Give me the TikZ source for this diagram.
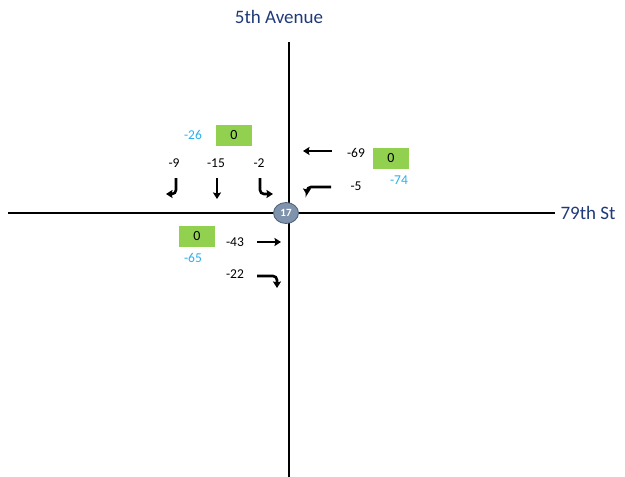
\documentclass[tikz,border=0pt]{standalone}
\usepackage{fontspec}
\setmainfont{Carlito}
\usetikzlibrary{arrows.meta,shapes.geometric}
\definecolor{navy}{HTML}{1F3A7A}
\definecolor{sky}{HTML}{29B1EE}
\definecolor{grn}{HTML}{92D050}
\definecolor{disc}{HTML}{7F93AD}
\definecolor{discb}{HTML}{4A5D78}
\tikzset{
  road/.style={line width=1.6pt,black},
  street/.style={text=navy,font=\fontsize{19}{21}\selectfont},
  cnt/.style={font=\fontsize{13.5}{15}\selectfont,text=black,inner sep=0pt},
  bluecnt/.style={font=\fontsize{13.5}{15}\selectfont,text=sky,inner sep=0pt},
  gbox/.style={fill=grn,minimum width=36pt,minimum height=21pt,inner sep=0pt,font=\fontsize{14}{16}\selectfont},
  mv/.style={line width=2.6pt,-{Stealth[length=6.5pt,width=8pt,inset=1pt]}}
}
\begin{document}
\begin{tikzpicture}[x=1pt,y=-1pt]
\useasboundingbox[fill=white] (0,0) rectangle (625,477);
% roads
\coordinate (nT) at (289,42);
\coordinate (nB) at (289,477);
\coordinate (wL) at (8,213);
\coordinate (eR) at (555,213);
\draw[road] (nT) -- (nB);
\draw[road] (wL) -- (eR);
\node[ellipse,fill=disc,draw=discb,line width=0.8pt,minimum width=25pt,minimum height=21pt,inner sep=0pt,text=white,font=\bfseries\fontsize{11}{12}\selectfont] (hub) at (286,213) {17};
% street names
\node[street] (ave) at (279,17) {5th Avenue};
\node[street] (st) at (588,213) {79th St};
% green boxes
\node[gbox] (gN) at (234,135) {0};
\node[gbox] (gE) at (391,158) {0};
\node[gbox] (gW) at (197,236) {0};
% blue totals
\node[bluecnt] (bN) at (193,135) {-26};
\node[bluecnt] (bE) at (399,180) {-74};
\node[bluecnt] (bW) at (193,258) {-65};
% movement counts
\node[cnt] (c1) at (174,163) {-9};
\node[cnt] (c2) at (216,163) {-15};
\node[cnt] (c3) at (259,163) {-2};
\node[cnt] (c4) at (356,153) {-69};
\node[cnt] (c5) at (356,186) {-5};
\node[cnt] (c6) at (235,242) {-43};
\node[cnt] (c7) at (235,274) {-22};
% arrows southbound
\coordinate (a1s) at (176,178);
\coordinate (a1e) at (166,194);
\draw[mv] (a1s) -- (176,190) to[out=-90,in=0] (172,194) -- (a1e);
\coordinate (a2s) at (217,178);
\coordinate (a2e) at (217,199);
\draw[mv] (a2s) -- (a2e);
\coordinate (a3s) at (260,178);
\coordinate (a3e) at (273,194);
\draw[mv] (a3s) -- (260,190) to[out=-90,in=180] (264,194) -- (a3e);
% westbound
\coordinate (a4s) at (332,151);
\coordinate (a4e) at (303,151);
\draw[mv] (a4s) -- (a4e);
\coordinate (a5s) at (331,187);
\coordinate (a5e) at (307,195);
\draw[mv] (a5s) -- (311,187) to[out=180,in=90] (307,191) -- (a5e);
% eastbound
\coordinate (a6s) at (257,242);
\coordinate (a6e) at (281,242);
\draw[mv] (a6s) -- (a6e);
\coordinate (a7s) at (257,276);
\coordinate (a7e) at (277,288);
\draw[mv] (a7s) -- (273,276) to[out=0,in=90] (277,280) -- (a7e);
\end{tikzpicture}
\end{document}
